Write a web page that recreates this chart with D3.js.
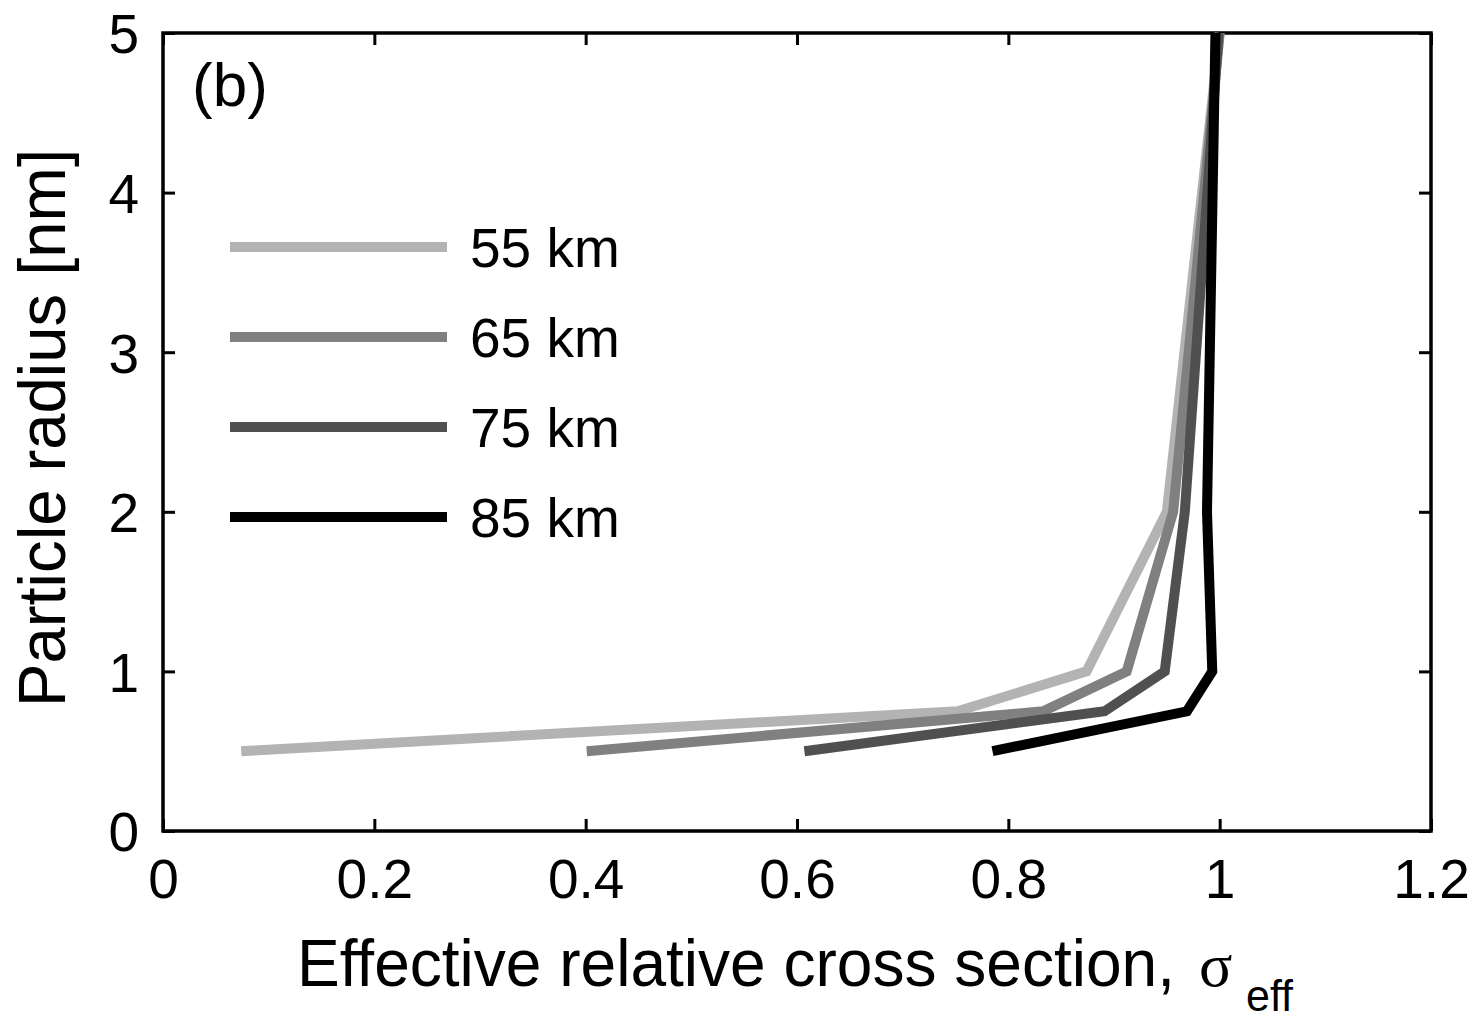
<!DOCTYPE html>
<meta http-equiv="Content-type" content="text/html; charset=UTF-8"/>
<style>
  body { margin: 0; background: #fff; }
  * { font-family: 'Liberation Sans', Arial, sans-serif; }
</style>
<svg width="1478" height="1021"></svg>
<script src="https://d3js.org/d3.v7.min.js"></script>
<script>
// particle radius [nm] at each vertex
var radius = [0.5, 0.75, 1, 2, 5];
// effective relative cross section for each altitude
var sigma55 = [0.074, 0.752, 0.874, 0.950, 1.000];
var sigma65 = [0.401, 0.833, 0.912, 0.956, 1.000];
var sigma75 = [0.607, 0.891, 0.948, 0.967, 0.999];
var sigma85 = [0.785, 0.969, 0.993, 0.988, 0.996];
var labels = ["55 km", "65 km", "75 km", "85 km"];
var colors = ["#b3b3b3", "#808080", "#505050", "#000000"];
var xTicks = [0, 0.2, 0.4, 0.6, 0.8, 1, 1.2];
var yTicks = [0, 1, 2, 3, 4, 5];

var series = [sigma55, sigma65, sigma75, sigma85];

var svg = d3.select("svg"),
    margin = {top: 33, right: 47, bottom: 190, left: 163},
    width = +svg.attr("width") - margin.left - margin.right,
    height = +svg.attr("height") - margin.top - margin.bottom,
    g = svg.append("g").attr("transform", "translate(" + margin.left + "," + margin.top + ")");

var x = d3.scaleLinear().domain([0, 1.2]).range([0, width]);
var y = d3.scaleLinear().domain([0, 5]).range([height, 0]);

var tickLen = 12;
var fmt = function(d) { return String(+d.toFixed(1)); };

// bottom and left axes with labels, ticks pointing inward
var xAxis = g.append("g")
    .attr("transform", "translate(0," + height + ")")
    .call(d3.axisBottom(x).tickValues(xTicks).tickFormat(fmt).tickSizeInner(-tickLen).tickSizeOuter(0).tickPadding(28));
var yAxis = g.append("g")
    .call(d3.axisLeft(y).tickValues(yTicks).tickFormat(fmt).tickSizeInner(-tickLen).tickSizeOuter(0).tickPadding(24));
// top and right ticks, no labels
var xTop = g.append("g")
    .call(d3.axisTop(x).tickValues(xTicks).tickFormat("").tickSizeInner(-tickLen).tickSizeOuter(0));
var yRight = g.append("g")
    .attr("transform", "translate(" + width + ",0)")
    .call(d3.axisRight(y).tickValues(yTicks).tickFormat("").tickSizeInner(-tickLen).tickSizeOuter(0));

[xAxis, yAxis, xTop, yRight].forEach(function(a) {
  a.select(".domain").remove();
  a.selectAll("line").attr("stroke", "#000").attr("stroke-width", 3);
  a.selectAll("text").attr("fill", "#000").style("font-size", "55px");
});
xAxis.selectAll("text").attr("dy", "0.71em");
yAxis.selectAll("text").attr("dy", "0.36em");

// frame
g.append("rect")
    .attr("width", width)
    .attr("height", height)
    .attr("fill", "none")
    .attr("stroke", "#000")
    .attr("stroke-width", 3.5);

var line = d3.line()
    .x(function(d) { return x(d[0]); })
    .y(function(d) { return y(d[1]); });

series.forEach(function(s, i) {
  g.append("path")
      .datum(d3.zip(s, radius))
      .attr("fill", "none")
      .attr("stroke", colors[i])
      .attr("stroke-width", 10)
      .attr("stroke-linejoin", "miter")
      .attr("d", line);
});

// legend
var legend = g.append("g").attr("transform", "translate(67,214)");
labels.forEach(function(l, i) {
  legend.append("line")
      .attr("x1", 0).attr("x2", 217)
      .attr("y1", i * 90).attr("y2", i * 90)
      .attr("stroke", colors[i])
      .attr("stroke-width", 10);
  legend.append("text")
      .attr("x", 240)
      .attr("y", i * 90 + 20)
      .style("font-size", "55px")
      .text(l);
});

// panel label
g.append("text")
    .attr("x", 29)
    .attr("y", 73)
    .style("font-size", "62px")
    .text("(b)");

// axis titles
svg.append("text")
    .attr("x", 297)
    .attr("y", 986)
    .attr("textLength", 878)
    .attr("lengthAdjust", "spacingAndGlyphs")
    .style("font-size", "66px")
    .text("Effective relative cross section,");
svg.append("text")
    .attr("x", 1199)
    .attr("y", 986)
    .style("font-family", "'Liberation Serif', serif")
    .style("font-size", "62px")
    .text("σ");
svg.append("text")
    .attr("x", 1246)
    .attr("y", 1011)
    .attr("textLength", 47)
    .attr("lengthAdjust", "spacingAndGlyphs")
    .style("font-size", "44px")
    .text("eff");

svg.append("text")
    .attr("transform", "translate(65,428) rotate(-90)")
    .attr("text-anchor", "middle")
    .attr("textLength", 558)
    .attr("lengthAdjust", "spacingAndGlyphs")
    .style("font-size", "66px")
    .text("Particle radius [nm]");
</script>
